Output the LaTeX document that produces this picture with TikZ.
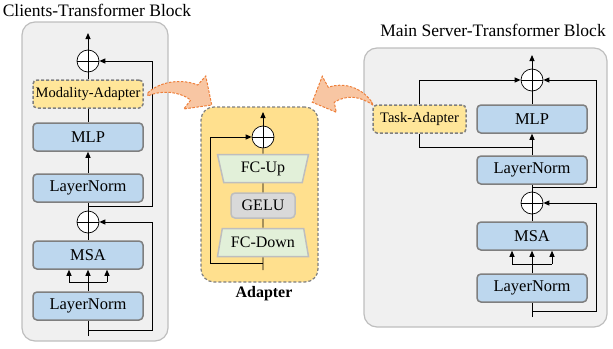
\documentclass[tikz,border=0pt]{standalone}
\usepackage{fontspec}
\setmainfont{Liberation Serif}
\usepackage{xcolor}
\definecolor{panelgray}{HTML}{F0F0F0}
\definecolor{panelline}{HTML}{BEBEBE}
\definecolor{blockblue}{HTML}{BDD7EE}
\definecolor{blockline}{HTML}{7F7F7F}
\definecolor{adapteryellow}{HTML}{FFE699}
\definecolor{adapterpanel}{HTML}{FFE08E}
\definecolor{fcgreen}{HTML}{E2F0D9}
\definecolor{gelugray}{HTML}{D9D9D9}
\definecolor{hintfill}{HTML}{F8C6A3}
\definecolor{hintline}{HTML}{EE7F3A}
\usetikzlibrary{
  positioning,
  arrows.meta,
  shapes.geometric,
  calc
}

\begin{document}
\begin{tikzpicture}[
  x=1pt, y=-1pt,
  >={Triangle[length=6pt,width=5pt]},
  line width=0.9pt,
  panel/.style={
    rectangle, rounded corners=13pt, draw=panelline, fill=panelgray, line width=1.2pt
  },
  blk/.style={
    rectangle, rounded corners=4pt, minimum width=110pt, minimum height=28pt,
    inner sep=1pt, draw=blockline, fill=blockblue, line width=1.5pt,
    font=\fontsize{16.5}{18}\selectfont
  },
  adp/.style={
    blk, fill=adapteryellow, dash pattern=on 3pt off 2pt,
    font=\fontsize{14.5}{17}\selectfont
  },
  trap/.style={
    trapezium, trapezium angle=66, trapezium stretches body,
    minimum width=91pt, minimum height=28pt, inner sep=0pt,
    draw=panelline, fill=fcgreen, line width=1.5pt,
    font=\fontsize{16}{18}\selectfont
  },
  oplus/.style={
    circle, draw, fill=white, minimum size=22pt, inner sep=0pt, line width=0.7pt,
    path picture={
      \draw[line width=0.7pt] (path picture bounding box.north) -- (path picture bounding box.south)
        (path picture bounding box.west) -- (path picture bounding box.east);
    }
  },
  title/.style={font=\fontsize{17.5}{19}\selectfont},
  hint/.style={fill=hintfill, draw=hintline, line width=1pt, dash pattern=on 2.5pt off 1.5pt}
]
\useasboundingbox (0,0) rectangle (613,348);

% clients block
\node[panel, minimum width=146pt, minimum height=319pt] (cpanel) at (95,181.5) {};
\node[title] (ctitle) at (97,10) {Clients-Transformer Block};

\node[blk] (cln1) at (88,306) {LayerNorm};
\node[blk] (cmsa) at (88,255) {MSA};
\node[oplus] (cadd1) at (88,222) {};
\node[blk] (cln2) at (88,188) {LayerNorm};
\node[blk] (cmlp) at (88,137) {MLP};
\node[adp] (cmada) at (88,94) {Modality-Adapter};
\node[oplus] (cadd2) at (88,61) {};

\coordinate (cin) at (88,336);
\coordinate (cres1) at (88,330);
\coordinate (csplit) at (88,282);
\coordinate (cres2) at (88,206);
\coordinate (cout) at (88,33);

\draw (cin) -- (cln1.south);
\draw (cln1.north) -- (csplit);
\draw ([xshift=-19pt]csplit) -- ([xshift=19pt]csplit);
\foreach \dx in {-19,0,19}
  \draw[->] ([xshift=\dx pt]csplit) -- ([xshift=\dx pt]cmsa.south);
\draw (cmsa.north) -- (cadd1.south);
\draw (cadd1.north) -- (cln2.south);
\draw[->] (cln2.north) -- (cmlp.south);
\draw (cmlp.north) -- (cmada.south);
\draw (cmada.north) -- (cadd2.south);
\draw[->] (cadd2.north) -- (cout);
\draw[->] (cres1) -- ++(64,0) |- (cadd1.east);
\draw[->] (cres2) -- ++(64,0) |- (cadd2.east);

% adapter
\node[panel, fill=adapterpanel, draw=blockline, dash pattern=on 3pt off 2pt,
  minimum width=117pt, minimum height=175pt] (apanel) at (259.5,194.5) {};
\node[title, font=\fontsize{16}{18}\selectfont\bfseries] (atitle) at (264,294) {Adapter};

\node[oplus] (aadd) at (263,137) {};
\node[trap, shape border rotate=180] (aup) at (263,168.5) {FC-Up};
\node[blk, fill=gelugray, draw=panelline, minimum width=64pt, minimum height=25pt,
  font=\fontsize{16}{18}\selectfont] (agelu) at (263,205.5) {GELU};
\node[trap] (adown) at (263,242.5) {FC-Down};

\coordinate (ain) at (263,270);
\coordinate (ares) at (263,263);
\coordinate (aout) at (263,112);

\draw (ain) -- (adown.south);
\draw (adown.north) -- (agelu.south);
\draw (agelu.north) -- (aup.south);
\draw (aup.north) -- (aadd.south);
\draw[->] (aadd.north) -- (aout);
\draw[->] (ares) -- ++(-53,0) |- (aadd.west);

% server block
\node[panel, minimum width=243pt, minimum height=279pt] (spanel) at (485.5,187.5) {};
\node[title] (stitle) at (493,30) {Main Server-Transformer Block};

\node[blk] (sln1) at (532,288) {LayerNorm};
\node[blk] (smsa) at (532,236) {MSA};
\node[oplus] (sadd1) at (532,203) {};
\node[blk] (sln2) at (532,170) {LayerNorm};
\node[blk] (smlp) at (532,119) {MLP};
\node[adp, minimum width=93pt] (stada) at (419.5,119) {Task-Adapter};
\node[oplus] (sadd2) at (532,80) {};

\coordinate (sin) at (532,317);
\coordinate (sres1) at (532,311);
\coordinate (ssplit) at (532,264);
\coordinate (sres2) at (532,187);
\coordinate (sbr) at (532,147);
\coordinate (sout) at (532,55);

\draw (sin) -- (sln1.south);
\draw (sln1.north) -- (ssplit);
\draw ([xshift=-20pt]ssplit) -- ([xshift=20pt]ssplit);
\foreach \dx in {-20,0,20}
  \draw[->] ([xshift=\dx pt]ssplit) -- ([xshift=\dx pt]smsa.south);
\draw (smsa.north) -- (sadd1.south);
\draw (sadd1.north) -- (sln2.south);
\draw[->] (sln2.north) -- (smlp.south);
\draw (smlp.north) -- (sadd2.south);
\draw[->] (sadd2.north) -- (sout);
\draw[->] (sres1) -- ++(64,0) |- (sadd1.east);
\draw[->] (sres2) -- ++(64,0) |- (sadd2.east);
\draw (sbr) -| (stada.south);
\draw[->] (stada.north) |- (sadd2.west);

% hint arrows towards the adapter
\begin{scope}[shift={(cmada.east)}]
  \draw[hint] (4,-1) .. controls (15,-12) and (37,-16) .. (54,-9)
    -- (62,-18) -- (68,11) -- (40,15) -- (47,6)
    .. controls (35,-3) and (17,-4) .. (4,2) -- cycle;
\end{scope}
\begin{scope}[shift={(stada.north west)}]
  \draw[hint] (-1,-3) .. controls (-12,-18) and (-30,-22) .. (-44,-17)
    -- (-50,-28) -- (-60,-2) -- (-36,8) -- (-38,-2)
    .. controls (-25,-10) and (-12,-8) .. (1,1) -- cycle;
\end{scope}

\end{tikzpicture}
\end{document}
